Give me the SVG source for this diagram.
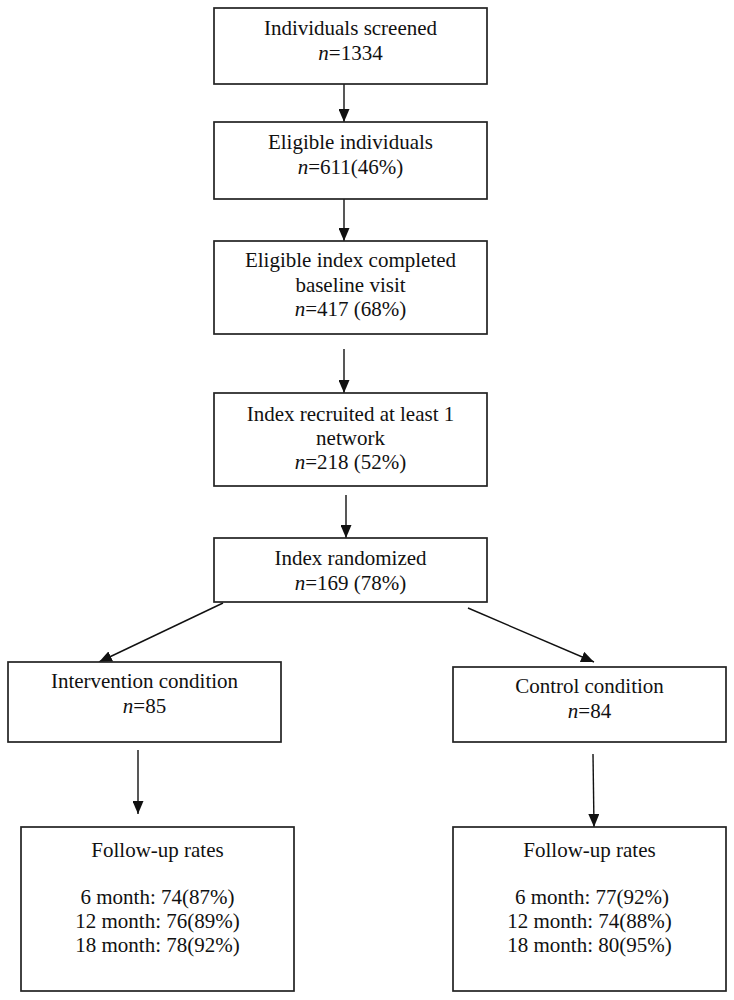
<svg xmlns="http://www.w3.org/2000/svg" width="734" height="1000" viewBox="0 0 734 1000">
<style>
.box{fill:#fff;stroke:#222;stroke-width:1.7}
.t{font-family:"Liberation Serif","Times New Roman",serif;font-size:21px;fill:#111;text-anchor:middle}
.i{font-style:italic}
.c{stroke:#111;stroke-width:1.4;fill:none;marker-end:url(#ah)}
</style>
<defs>
<marker id="ah" viewBox="0 0 13 11" refX="13" refY="5.5" markerWidth="13" markerHeight="11" markerUnits="userSpaceOnUse" orient="auto">
<path d="M0,0 L13,5.5 L0,11 Z" fill="#111"/>
</marker>
</defs>
<rect width="734" height="1000" fill="#fff"/>
<g id="connectors">
<line class="c" x1="344" y1="84" x2="344" y2="122"/>
<line class="c" x1="344" y1="199" x2="344" y2="241"/>
<line class="c" x1="344" y1="349" x2="344" y2="393"/>
<line class="c" x1="346" y1="495" x2="346" y2="538"/>
<line class="c" x1="223" y1="603" x2="99" y2="662"/>
<line class="c" x1="468" y1="608" x2="594" y2="662"/>
<line class="c" x1="138" y1="750" x2="138" y2="814"/>
<line class="c" x1="593" y1="754" x2="594" y2="827"/>
</g>
<g id="screened">
<rect class="box" x="214" y="8" width="273" height="76"/>
<text class="t" x="350.5" y="35">Individuals screened</text>
<text class="t" x="350.5" y="60"><tspan class="i">n</tspan>=1334</text>
</g>
<g id="eligible">
<rect class="box" x="214" y="122" width="273" height="77"/>
<text class="t" x="350.5" y="149">Eligible individuals</text>
<text class="t" x="350.5" y="174"><tspan class="i">n</tspan>=611(46%)</text>
</g>
<g id="baseline">
<rect class="box" x="214" y="241" width="273" height="93"/>
<text class="t" x="350.5" y="267">Eligible index completed</text>
<text class="t" x="350.5" y="292">baseline visit</text>
<text class="t" x="350.5" y="316"><tspan class="i">n</tspan>=417 (68%)</text>
</g>
<g id="recruited">
<rect class="box" x="214" y="393" width="273" height="93"/>
<text class="t" x="350.5" y="421">Index recruited at least 1</text>
<text class="t" x="350.5" y="445">network</text>
<text class="t" x="350.5" y="469"><tspan class="i">n</tspan>=218 (52%)</text>
</g>
<g id="randomized">
<rect class="box" x="214" y="538" width="273" height="64"/>
<text class="t" x="350.5" y="565">Index randomized</text>
<text class="t" x="350.5" y="590"><tspan class="i">n</tspan>=169 (78%)</text>
</g>
<g id="intervention">
<rect class="box" x="8" y="662" width="273" height="80"/>
<text class="t" x="144.5" y="688">Intervention condition</text>
<text class="t" x="144.5" y="713"><tspan class="i">n</tspan>=85</text>
</g>
<g id="control">
<rect class="box" x="453" y="667" width="273" height="75"/>
<text class="t" x="589.5" y="693">Control condition</text>
<text class="t" x="589.5" y="718"><tspan class="i">n</tspan>=84</text>
</g>
<g id="followup-intervention">
<rect class="box" x="21" y="827" width="273" height="164"/>
<text class="t" x="157.5" y="857">Follow-up rates</text>
<text class="t" x="157.5" y="904">6 month: 74(87%)</text>
<text class="t" x="157.5" y="928">12 month: 76(89%)</text>
<text class="t" x="157.5" y="952">18 month: 78(92%)</text>
</g>
<g id="followup-control">
<rect class="box" x="453" y="827" width="273" height="164"/>
<text class="t" x="589.5" y="857">Follow-up rates</text>
<text class="t" x="592" y="904">6 month: 77(92%)</text>
<text class="t" x="589.5" y="928">12 month: 74(88%)</text>
<text class="t" x="589.5" y="952">18 month: 80(95%)</text>
</g>
</svg>
